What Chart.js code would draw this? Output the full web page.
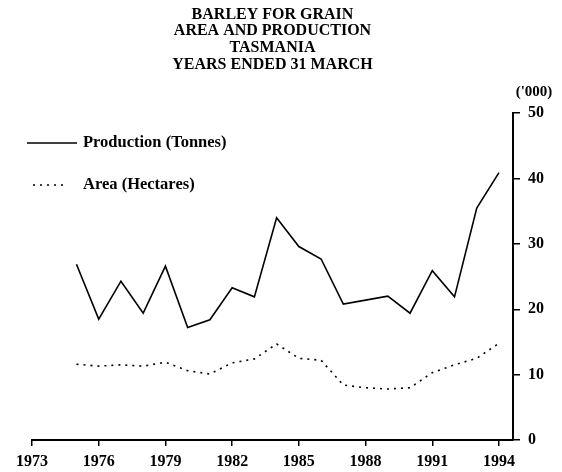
<!DOCTYPE html>
<html>
<head>
<meta charset="utf-8">
<title>Barley for grain - Tasmania</title>
<script src="https://cdn.jsdelivr.net/npm/chart.js@4.4.1/dist/chart.umd.min.js"></script>
<style>
  html, body { margin: 0; padding: 0; background: #fff; }
  canvas { display: block; }
</style>
</head>
<body>
<canvas id="grafico" width="562" height="472"></canvas>
<script>
// datos ('000)
const years = [1975, 1976, 1977, 1978, 1979, 1980, 1981, 1982, 1983, 1984,
               1985, 1986, 1987, 1988, 1989, 1990, 1991, 1992, 1993, 1994];
const production = [26.9, 18.5, 24.3, 19.4, 26.6, 17.2, 18.4, 23.3, 21.9, 34.0,
                    29.6, 27.7, 20.8, 21.4, 22.0, 19.4, 25.9, 21.9, 35.5, 40.9];
const area = [11.6, 11.3, 11.5, 11.3, 11.9, 10.6, 10.1, 11.8, 12.4, 14.7,
              12.5, 12.2, 8.4, 8.0, 7.8, 8.0, 10.3, 11.5, 12.5, 14.8];
const xTicks = [1973, 1976, 1979, 1982, 1985, 1988, 1991, 1994];
const yTicks = [0, 10, 20, 30, 40, 50];
const titleLines = ["BARLEY FOR GRAIN", "AREA AND PRODUCTION", "TASMANIA", "YEARS ENDED 31 MARCH"];
const seriesNames = ["Production (Tonnes)", "Area (Hectares)"];
const unitLabel = "('000)";

const serif = "'Liberation Serif', 'Times New Roman', serif";

const toPoints = (vals) => years.map((y, i) => ({ x: y, y: vals[i] }));

// leyenda dentro del area del grafico, y la unidad sobre el eje
const leyendaInterna = {
  id: "leyendaInterna",
  afterDraw(chart) {
    const ctx = chart.ctx;
    const rows = [
      { y: 143, x1: 27, x2: 77 },
      { y: 185, x1: 33, x2: 68 }
    ];
    chart.data.datasets.forEach((ds, i) => {
      const r = rows[i];
      ctx.save();
      ctx.strokeStyle = ds.borderColor;
      ctx.lineWidth = ds.borderWidth;
      ctx.setLineDash(ds.borderDash || []);
      ctx.beginPath();
      ctx.moveTo(r.x1, r.y);
      ctx.lineTo(r.x2, r.y);
      ctx.stroke();
      ctx.setLineDash([]);
      ctx.fillStyle = "#000";
      ctx.font = "bold 16.5px " + serif;
      ctx.textBaseline = "middle";
      ctx.textAlign = "left";
      ctx.fillText(ds.label, 83, r.y);
      ctx.restore();
    });
    ctx.save();
    ctx.fillStyle = "#000";
    ctx.font = "bold 15px " + serif;
    ctx.textAlign = "center";
    ctx.textBaseline = "middle";
    ctx.fillText(unitLabel, 534, 92);
    ctx.restore();
  }
};

new Chart(document.getElementById("grafico"), {
  type: "line",
  data: {
    datasets: [{
      label: seriesNames[0],
      data: toPoints(production),
      borderColor: "#000",
      borderWidth: 1.6,
      pointRadius: 0,
      fill: false
    }, {
      label: seriesNames[1],
      data: toPoints(area),
      borderColor: "#000",
      borderWidth: 1.6,
      borderDash: [2, 5],
      pointRadius: 0,
      fill: false
    }]
  },
  options: {
    responsive: false,
    animation: false,
    devicePixelRatio: 1,
    layout: { padding: { left: 32, right: 0, top: 0, bottom: 0 } },
    plugins: {
      legend: { display: false },
      tooltip: { enabled: false },
      title: {
        display: true,
        text: titleLines,
        fullSize: false,
        color: "#000",
        font: { family: serif, size: 16, weight: "bold", lineHeight: 1.05 },
        padding: { top: 6, bottom: 40 }
      }
    },
    scales: {
      x: {
        type: "linear",
        min: 1973,
        max: 1994.63,
        afterBuildTicks: (s) => { s.ticks = xTicks.map(v => ({ value: v })); },
        afterFit: (s) => { s.height = 32; },
        grid: { drawOnChartArea: false, drawTicks: true, tickLength: 6, color: "#000", lineWidth: 1.5 },
        border: { display: true, color: "#000", width: 2, dash: [467, 1000] },
        ticks: {
          autoSkip: false,
          maxRotation: 0,
          padding: 6,
          color: "#000",
          font: { family: serif, size: 16, weight: "bold" },
          callback: (v) => String(v)
        }
      },
      y: {
        position: "right",
        min: 0,
        max: 50,
        afterBuildTicks: (s) => { s.ticks = yTicks.map(v => ({ value: v })); },
        afterFit: (s) => { s.width = 49; },
        grid: { drawOnChartArea: false, drawTicks: true, tickLength: 7, color: "#000", lineWidth: 1.5 },
        border: { display: true, color: "#000", width: 2 },
        ticks: {
          padding: 8,
          color: "#000",
          font: { family: serif, size: 16, weight: "bold" },
          callback: (v) => String(v)
        }
      }
    }
  },
  plugins: [leyendaInterna]
});
</script>
</body>
</html>
